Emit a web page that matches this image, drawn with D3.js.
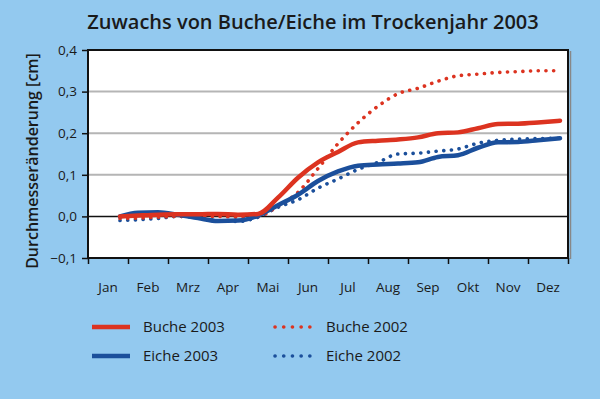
<!DOCTYPE html>
<html>
<head>
<meta charset="utf-8">
<script src="https://cdn.jsdelivr.net/npm/d3@7"></script>
<style>
  html, body { margin: 0; padding: 0; background: #93c9ef; }
  svg { display: block; font-family: 'Open Sans', 'Noto Sans', sans-serif; }
</style>
</head>
<body>
<script>
// Monatsposition (0 = 1. Jan, 12 = 31. Dez)
var monatPos = [0.8, 1.25, 1.75, 2.25, 2.75, 3.25, 3.75, 4.25, 4.75, 5.25, 5.75, 6.25,
	6.75, 7.25, 7.75, 8.25, 8.75, 9.25, 9.75, 10.25, 10.75, 11.25, 11.8];

var buche2003 = [0.0, 0.002, 0.004, 0.005, 0.005, 0.006, 0.004, 0.006, 0.045, 0.093, 0.13, 0.155,
	0.178, 0.182, 0.185, 0.19, 0.2, 0.202, 0.212, 0.222, 0.223, 0.226, 0.23];
var eiche2003 = [0.0, 0.009, 0.01, 0.004, -0.004, -0.011, -0.01, 0.002, 0.027, 0.052, 0.085, 0.108,
	0.122, 0.125, 0.127, 0.13, 0.143, 0.147, 0.165, 0.178, 0.179, 0.183, 0.188];
var buche2002 = [-0.005, -0.004, -0.002, 0.0, 0.0, 0.0, -0.002, 0.0, 0.025, 0.058, 0.115, 0.175,
	0.225, 0.265, 0.295, 0.308, 0.325, 0.338, 0.342, 0.346, 0.348, 0.35, 0.35];
var eiche2002 = [-0.01, -0.008, -0.005, 0.0, -0.003, -0.01, -0.012, -0.002, 0.022, 0.04, 0.068, 0.09,
	0.113, 0.13, 0.15, 0.152, 0.157, 0.162, 0.176, 0.183, 0.186, 0.187, 0.188];

var monate = ['Jan', 'Feb', 'Mrz', 'Apr', 'Mai', 'Jun', 'Jul', 'Aug', 'Sep', 'Okt', 'Nov', 'Dez'];
var yTicks = [-0.1, 0, 0.1, 0.2, 0.3, 0.4];

var rot = '#dc3320', blau = '#1b4f9b';

var serien = [
	{name: 'Buche 2003', werte: buche2003, farbe: rot, punkt: false},
	{name: 'Eiche 2003', werte: eiche2003, farbe: blau, punkt: false},
	{name: 'Buche 2002', werte: buche2002, farbe: rot, punkt: true},
	{name: 'Eiche 2002', werte: eiche2002, farbe: blau, punkt: true}
];

var width = 600, height = 399;
var pL = 88, pR = 568, pT = 50, pB = 258;

var svg = d3.select('body').append('svg')
	.attr('width', width)
	.attr('height', height);

svg.append('rect').attr('width', width).attr('height', height).attr('fill', '#93c9ef');

var x = d3.scaleLinear().domain([0, 12]).range([pL, pR]);
var y = d3.scaleLinear().domain([-0.1, 0.4]).range([pB, pT]);
var fmt = function(d) { return d3.format('.1f')(d).replace('.', ','); };

// titel
svg.append('text')
	.attr('x', 313).attr('y', 29)
	.attr('text-anchor', 'middle')
	.attr('font-size', 20)
	.attr('font-weight', 600)
	.attr('fill', '#1a1a1a')
	.text('Zuwachs von Buche/Eiche im Trockenjahr 2003');

// plotflaeche
svg.append('rect')
	.attr('x', pL).attr('y', pT)
	.attr('width', pR - pL).attr('height', pB - pT)
	.attr('fill', '#fff');

svg.append('g')
	.selectAll('line').data(yTicks.filter(function(d) { return d > 0 && d < 0.4; }))
	.enter().append('line')
	.attr('x1', pL).attr('x2', pR)
	.attr('y1', function(d) { return y(d); }).attr('y2', function(d) { return y(d); })
	.attr('stroke', '#b5b5b5').attr('stroke-width', 2);

svg.append('line')
	.attr('x1', pL).attr('x2', pR).attr('y1', y(0)).attr('y2', y(0))
	.attr('stroke', '#111').attr('stroke-width', 1.5);

// rahmen oben / rechts
svg.append('line').attr('x1', pL).attr('x2', pR + 1).attr('y1', pT).attr('y2', pT)
	.attr('stroke', '#111').attr('stroke-width', 2);
svg.append('line').attr('x1', pR + 2.5).attr('x2', pR + 2.5).attr('y1', pT + 1).attr('y2', pB + 1)
	.attr('stroke', '#888').attr('stroke-width', 1.5);
svg.append('line').attr('x1', pR).attr('x2', pR).attr('y1', pT).attr('y2', pB)
	.attr('stroke', '#111').attr('stroke-width', 2);

// achsen
var xAxis = d3.axisBottom(x).tickValues(d3.range(0, 13)).tickSize(6).tickFormat('');
var gx = svg.append('g').attr('transform', 'translate(0,' + pB + ')').call(xAxis);
gx.select('.domain').attr('stroke', '#111').attr('stroke-width', 2).attr('d', 'M' + pL + ',0H' + pR);
gx.selectAll('.tick line').attr('stroke', '#111').attr('stroke-width', 1.5);

svg.append('g').selectAll('text').data(monate)
	.enter().append('text')
	.attr('x', function(d, i) { return x(i + 0.5); })
	.attr('y', 292)
	.attr('text-anchor', 'middle')
	.attr('font-size', 13.5)
	.attr('fill', '#1a1a1a')
	.text(function(d) { return d; });

var yAxis = d3.axisLeft(y).tickValues(yTicks).tickSize(6).tickPadding(5).tickFormat(fmt);
var gy = svg.append('g').attr('transform', 'translate(' + pL + ',0)').call(yAxis);
gy.select('.domain').attr('stroke', '#111').attr('stroke-width', 2).attr('d', 'M0,' + (pT - 1) + 'V' + (pB + 1));
gy.selectAll('.tick line').attr('stroke', '#111').attr('stroke-width', 1.5);
gy.selectAll('.tick text').attr('font-size', 13.5).attr('fill', '#1a1a1a')
	.attr('font-family', "'Open Sans', sans-serif");

svg.append('text')
	.attr('transform', 'translate(38,' + 161 + ') rotate(-90)')
	.attr('text-anchor', 'middle')
	.attr('font-size', 16)
	.attr('font-weight', 600)
	.attr('fill', '#1a1a1a')
	.text('Durchmesseränderung [cm]');

// linien
var line = d3.line()
	.curve(d3.curveMonotoneX)
	.x(function(d) { return x(d[0]); })
	.y(function(d) { return y(d[1]); });

var zeichnung = [serien[3], serien[2], serien[1], serien[0]];
svg.append('g').selectAll('path').data(zeichnung)
	.enter().append('path')
	.attr('d', function(s) { return line(d3.zip(monatPos, s.werte)); })
	.attr('fill', 'none')
	.attr('stroke', function(s) { return s.farbe; })
	.attr('stroke-width', function(s) { return s.punkt ? 3.6 : 4.5; })
	.attr('stroke-linecap', 'round')
	.attr('stroke-linejoin', 'round')
	.attr('stroke-dasharray', function(s) { return s.punkt ? '0.1 7.6' : null; });

// legende
var leg = svg.append('g').selectAll('g').data(serien)
	.enter().append('g')
	.attr('transform', function(s, i) {
		var col = s.punkt ? 1 : 0, row = i % 2;
		return 'translate(' + (col ? 274 : 92) + ',' + (327 + row * 29) + ')';
	});
leg.append('line')
	.attr('x1', function(s) { return s.punkt ? 1 : 0; })
	.attr('x2', function(s) { return s.punkt ? 36 : 38; })
	.attr('stroke', function(s) { return s.farbe; })
	.attr('stroke-width', function(s) { return s.punkt ? 3.6 : 4.5; })
	.attr('stroke-linecap', function(s) { return s.punkt ? 'round' : 'butt'; })
	.attr('stroke-dasharray', function(s) { return s.punkt ? '0.1 8.6' : null; });
leg.append('text')
	.attr('x', function(s) { return s.punkt ? 52 : 51; })
	.attr('y', 5)
	.attr('font-size', 15)
	.attr('fill', '#1a1a1a')
	.text(function(s) { return s.name; });
</script>
</body>
</html>
